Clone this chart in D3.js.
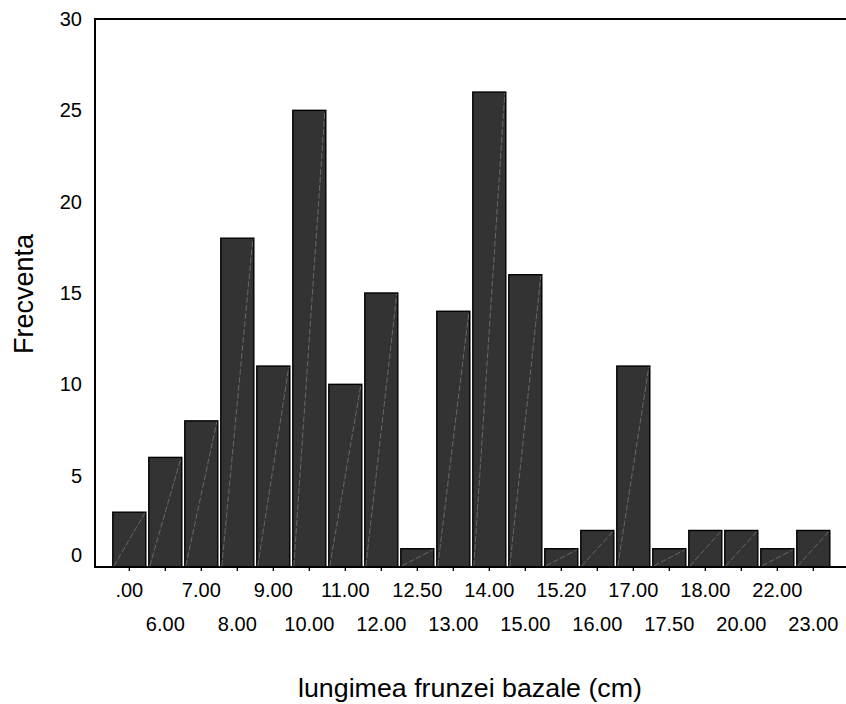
<!DOCTYPE html>
<html>
<head>
<meta charset="utf-8">
<script src="https://cdn.jsdelivr.net/npm/d3@7"></script>
<style>
html,body{margin:0;padding:0;background:#fff;}
svg{display:block;font-family:"Liberation Sans",Arial,sans-serif;}
</style>
</head>
<body>
<svg id="chart" width="846" height="704"></svg>
<script>
const categories = [".00","6.00","7.00","8.00","9.00","10.00","11.00","12.00","12.50","13.00","14.00","15.00","15.20","16.00","17.00","17.50","18.00","20.00","22.00","23.00"];
const frequencies = [3,6,8,18,11,25,10,15,1,14,26,16,1,2,11,1,2,2,1,2];
const yTicks = [0,5,10,15,20,25,30];
const xTitle = "lungimea frunzei bazale (cm)";
const yTitle = "Frecventa";

const svg = d3.select("#chart");
const mLeft = 95, mTop = 19, mBottom = 567, mRight = 846;
const FONT = "Liberation Sans, Arial, sans-serif";

const x = d3.scaleBand().domain(categories).range([111.3, 831.3]);
const y = d3.scaleLinear().domain([0, 30]).range([mBottom, mTop]);

// bars
const g = svg.append("g");
const data = categories.map((c, i) => ({c, v: frequencies[i]}));
g.selectAll("rect.bar").data(data).enter().append("rect")
  .attr("class", "bar")
  .attr("x", d => x(d.c) + 1.5)
  .attr("y", d => y(d.v))
  .attr("width", x.bandwidth() - 3)
  .attr("height", d => y(0) - y(d.v))
  .attr("fill", "#333333")
  .attr("stroke", "#000")
  .attr("stroke-width", 1.4);

// faint diagonal artifacts
g.selectAll("line.diag").data(data).enter().append("line")
  .attr("x1", d => x(d.c) + 2.5)
  .attr("y1", d => y(0) - 1)
  .attr("x2", d => x(d.c) + x.bandwidth() - 2.5)
  .attr("y2", d => y(d.v) + 1)
  .attr("stroke", "#8a8a8a")
  .attr("stroke-width", 0.6)
  .attr("stroke-dasharray", "6,2");

// frame lines: left, top
svg.append("line").attr("x1", mLeft).attr("x2", mLeft).attr("y1", mTop).attr("y2", mBottom)
  .attr("stroke", "#000").attr("stroke-width", 2);
svg.append("line").attr("x1", mLeft - 1).attr("x2", mRight).attr("y1", mTop).attr("y2", mTop)
  .attr("stroke", "#000").attr("stroke-width", 2);

// y axis labels (no tick marks)
const yAxis = d3.axisLeft(y).tickValues(yTicks).tickSize(0).tickPadding(13).tickFormat(d3.format("d"));
const ya = svg.append("g").attr("transform", `translate(${mLeft},0)`).call(yAxis);
ya.select(".domain").remove();
ya.attr("font-size", 20).attr("font-family", FONT);
ya.selectAll("text").attr("font-size", 20).attr("fill", "#000")
  .attr("dy", d => d === 0 ? "-0.3em" : "0.32em");

// x axis
const xAxis = d3.axisBottom(x).tickSize(4).tickSizeOuter(0).tickPadding(0);
const xa = svg.append("g").attr("transform", `translate(0,${mBottom})`).call(xAxis);
xa.select(".domain").remove();
xa.attr("font-size", 20).attr("font-family", FONT);
xa.selectAll(".tick line").attr("stroke", "#000").attr("stroke-width", 1.3);
xa.selectAll("text")
  .attr("font-size", 20).attr("fill", "#000")
  .attr("dy", null)
  .attr("y", (d, i) => i % 2 === 0 ? 29.5 : 63.5);
svg.append("line").attr("x1", mLeft - 1).attr("x2", mRight).attr("y1", mBottom).attr("y2", mBottom)
  .attr("stroke", "#000").attr("stroke-width", 2);

// titles
svg.append("text").attr("x", 470).attr("y", 696.5)
  .attr("text-anchor", "middle").attr("font-size", 25).attr("fill", "#000")
  .attr("font-family", FONT)
  .attr("textLength", 344).attr("lengthAdjust", "spacingAndGlyphs")
  .text(xTitle);
svg.append("text").attr("transform", "translate(33,294) rotate(-90)")
  .attr("text-anchor", "middle").attr("font-size", 27).attr("fill", "#000")
  .attr("font-family", FONT)
  .text(yTitle);
</script>
</body>
</html>
